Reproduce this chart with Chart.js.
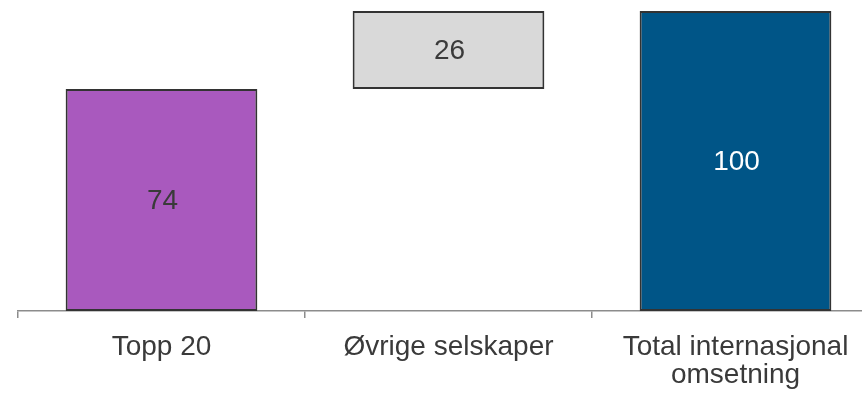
<!DOCTYPE html>
<html>
<head>
<meta charset="utf-8">
<script src="https://cdn.jsdelivr.net/npm/chart.js@4"></script>
<style>
	html, body { margin: 0; padding: 0; background: #fff; overflow: hidden; }
	#wrap { width: 880px; height: 393px; }
</style>
</head>
<body>
<div id="wrap"><canvas id="chart" width="880" height="393"></canvas></div>
<script>
// Categories and floating bar ranges [start, end]
var categories = ["Topp 20", "Øvrige selskaper", ["Total internasjonal", "omsetning"]];
var barStart = [0, 74, 0];
var barEnd = [74, 100, 100];
var barColors = ["#a959be", "#d9d9d9", "#005587"];
var labelColors = ["#3a3a3a", "#3a3a3a", "#ffffff"];

var FONT = "'Liberation Sans', Arial, sans-serif";

// Value labels in the middle of each bar
var valueLabels = {
	id: "valueLabels",
	afterDatasetsDraw: function (chart) {
		var ctx = chart.ctx;
		var meta = chart.getDatasetMeta(0);
		ctx.save();
		ctx.font = "28px " + FONT;
		ctx.textAlign = "center";
		ctx.textBaseline = "middle";
		meta.data.forEach(function (bar, i) {
			var v = barEnd[i] - barStart[i];
			ctx.fillStyle = labelColors[i];
			ctx.fillText(String(v), bar.x + 1, (bar.y + bar.base) / 2 + 1);
		});
		ctx.restore();
	},
};

new Chart(document.getElementById("chart"), {
	type: "bar",
	data: {
		labels: categories,
		datasets: [
			{
				data: barStart.map(function (s, i) { return [s, barEnd[i]]; }),
				backgroundColor: barColors,
				borderColor: "#333333",
				borderWidth: 2,
				borderSkipped: false,
				categoryPercentage: 1,
				barPercentage: 0.668,
			},
		],
	},
	options: {
		responsive: false,
		animation: false,
		layout: { padding: { left: 18, right: 1, top: 11, bottom: 0 } },
		plugins: { legend: { display: false }, tooltip: { enabled: false } },
		scales: {
			y: { display: false, min: 0, max: 100 },
			x: {
				afterFit: function (s) { s.height = 82; },
				grid: {
					offset: true,
					drawOnChartArea: false,
					drawTicks: true,
					tickLength: 7,
					color: "#8c8c8c",
					lineWidth: 1.5,
				},
				border: { display: true, color: "#8c8c8c", width: 1.5 },
				ticks: {
					color: "#3a3a3a",
					padding: 15,
					maxRotation: 0,
					autoSkip: false,
					font: { family: FONT, size: 28, lineHeight: 1.0 },
				},
			},
		},
	},
	plugins: [valueLabels],
});
</script>
</body>
</html>
